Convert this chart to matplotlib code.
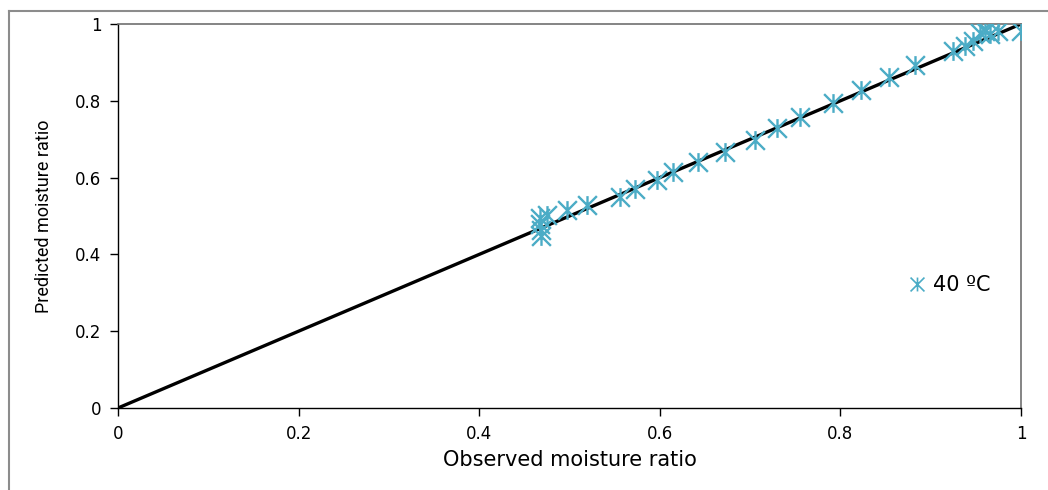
import matplotlib
matplotlib.use('Agg')
import matplotlib.pyplot as plt
from matplotlib.path import Path
from matplotlib.lines import Line2D

# Observed vs predicted moisture ratio at 40 C
observed = [0.467, 0.467, 0.468, 0.468, 0.475, 0.497, 0.519, 0.556, 0.573,
            0.597, 0.615, 0.642, 0.672, 0.705, 0.730, 0.755, 0.792, 0.823,
            0.854, 0.883, 0.925, 0.938, 0.947, 0.955, 0.960, 0.966, 0.975, 1.0]
predicted = [0.495, 0.479, 0.464, 0.448, 0.503, 0.516, 0.529, 0.549, 0.570,
             0.594, 0.615, 0.641, 0.667, 0.698, 0.729, 0.758, 0.794, 0.828,
             0.862, 0.893, 0.930, 0.943, 0.956, 0.977, 0.982, 0.974, 0.982, 0.982]
line_x = [0, 1]
line_y = [0, 1]
ticks = [0, 0.2, 0.4, 0.6, 0.8, 1]
tick_labels = ['0', '0.2', '0.4', '0.6', '0.8', '1']

# Excel style star marker: X plus vertical bar
star = Path([(0, -1), (0, 1), (-1, -1), (1, 1), (-1, 1), (1, -1)],
            [Path.MOVETO, Path.LINETO, Path.MOVETO, Path.LINETO, Path.MOVETO, Path.LINETO])

col = '#4BACC6'

fig = plt.figure(figsize=(10.48, 4.9), dpi=100)
ax = fig.add_axes([118/1048, 82/490, 903/1048, 384/490])

ax.plot(line_x, line_y, color='black', lw=2.4, zorder=2)
ax.plot(observed, predicted, ls='none', marker=star, ms=13.5, mew=1.7,
        mec=col, mfc='none', zorder=3)

ax.set_xlim(0, 1)
ax.set_ylim(0, 1)
ax.set_xticks(ticks)
ax.set_xticklabels(tick_labels)
ax.set_yticks(ticks)
ax.set_yticklabels(tick_labels)
ax.tick_params(direction='out', length=6, width=1, labelsize=12, colors='black', pad=6)

for s in ['left', 'bottom']:
    ax.spines[s].set_color('black')
    ax.spines[s].set_linewidth(1)
for s in ['top', 'right']:
    ax.spines[s].set_color('#707070')
    ax.spines[s].set_linewidth(1.2)

ax.set_xlabel('Observed moisture ratio', fontsize=15, family=['DejaVu Sans'])
ax.xaxis.set_label_coords(0.5, -42/384)
ax.set_ylabel('Predicted moisture ratio', fontsize=13,
              family=['Liberation Sans Narrow', 'Roboto', 'DejaVu Sans'])
ax.yaxis.set_label_coords(-65/903, 0.5)

handle = Line2D([], [], ls='none', marker=star, ms=10, mew=1.2, mec=col, mfc='none')
ax.legend([handle], ['40 ºC'], loc='center left', bbox_to_anchor=(0.855, 0.32),
          frameon=False, handlelength=0.8, handletextpad=0.35,
          prop={'family': ['DejaVu Sans'], 'size': 15})

# outer chart border (left and top visible)
fig.add_artist(Line2D([9/1048, 9/1048], [0, 1 - 11/490], transform=fig.transFigure,
                      color='#8c8c8c', lw=1.5))
fig.add_artist(Line2D([9/1048, 1], [1 - 11/490, 1 - 11/490], transform=fig.transFigure,
                      color='#8c8c8c', lw=1.5))

fig.savefig('out.png', dpi=100)
